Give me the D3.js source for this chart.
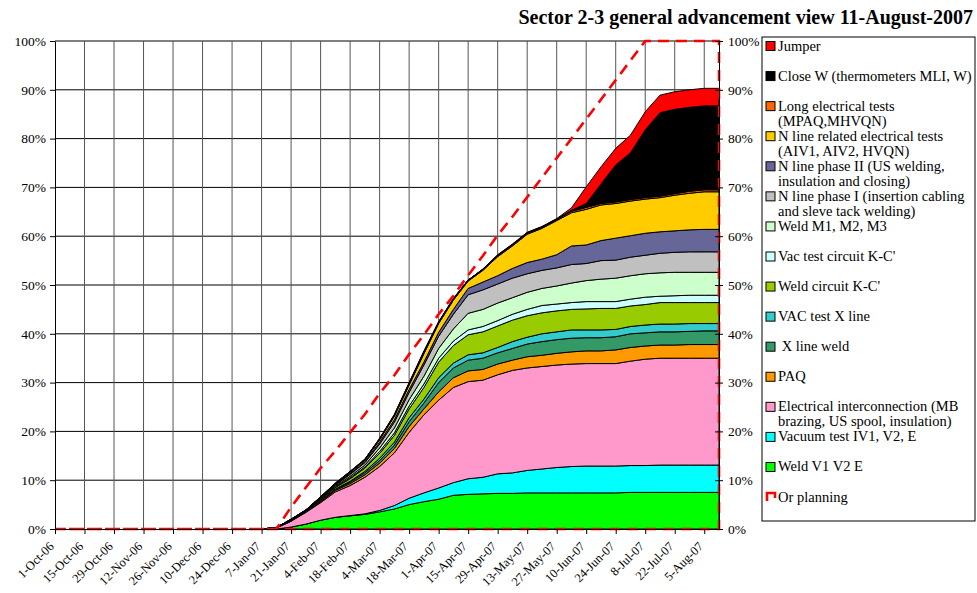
<!DOCTYPE html>
<html>
<head>
<meta charset="utf-8">
<script src="https://cdn.jsdelivr.net/npm/d3@7"></script>
<style>
  body { margin: 0; background: #fff; }
  svg { display: block; }
  text { font-family: "Liberation Serif", "Times New Roman", serif; fill: #000; }
</style>
</head>
<body>
<div id="chart"></div>
<script>
// weekly report dates (Sundays)
const weekDates = ["7-Jan-07","14-Jan-07","21-Jan-07","28-Jan-07","4-Feb-07","11-Feb-07","18-Feb-07","25-Feb-07",
  "4-Mar-07","11-Mar-07","18-Mar-07","25-Mar-07","1-Apr-07","8-Apr-07","15-Apr-07","22-Apr-07","29-Apr-07",
  "6-May-07","13-May-07","20-May-07","27-May-07","3-Jun-07","10-Jun-07","17-Jun-07","24-Jun-07","1-Jul-07",
  "8-Jul-07","15-Jul-07","22-Jul-07","29-Jul-07","5-Aug-07","12-Aug-07"];

// x axis tick labels
const tickLabels = ["1-Oct-06","15-Oct-06","29-Oct-06","12-Nov-06","26-Nov-06","10-Dec-06","24-Dec-06","7-Jan-07",
  "21-Jan-07","4-Feb-07","18-Feb-07","4-Mar-07","18-Mar-07","1-Apr-07","15-Apr-07","29-Apr-07","13-May-07",
  "27-May-07","10-Jun-07","24-Jun-07","8-Jul-07","22-Jul-07","5-Aug-07"];

// percent of sector work done per activity (stacked, bottom first)
const weldV1V2E      = [0,0,0.4,1.0,1.8,2.4,2.7,3.0,3.5,4.1,5.0,5.6,6.1,6.9,7.1,7.2,7.3,7.3,7.4,7.4,7.4,7.4,7.4,7.4,7.4,7.5,7.5,7.5,7.5,7.5,7.5,7.5];
const vacuumTest     = [0,0,0,0,0,0,0.05,0.1,0.3,0.7,1.3,1.8,2.3,2.6,3.2,3.4,4.0,4.2,4.6,4.9,5.2,5.4,5.5,5.5,5.5,5.5,5.5,5.6,5.6,5.6,5.6,5.6];
const elecInterconn  = [0,0.2,1.2,2.4,3.6,5.2,6.15,7.5,9.0,10.8,13.5,16.0,18.0,19.5,19.9,19.9,20.3,21.0,21.0,21.0,21.0,21.0,21.0,21.0,21.0,21.4,21.8,21.9,21.9,21.9,21.9,21.9];
const paq            = [0,0,0.05,0.1,0.2,0.3,0.4,0.5,0.7,0.9,1.2,1.2,1.7,2.0,2.2,2.2,2.2,2.1,2.3,2.3,2.4,2.5,2.6,2.6,2.8,2.8,2.7,2.7,2.7,2.8,2.8,2.8];
const xLineWeld      = [0,0,0.05,0.05,0.1,0.2,0.3,0.4,0.5,0.7,1.0,1.2,1.9,2.0,2.2,2.3,2.3,2.4,2.6,2.8,2.8,2.8,2.7,2.7,2.7,2.8,2.7,2.7,2.7,2.7,2.8,2.8];
const vacTestXLine   = [0,0,0,0.05,0.1,0.1,0.2,0.3,0.5,0.6,0.8,0.8,1.0,1.0,1.1,1.1,1.1,1.4,1.4,1.6,1.6,1.7,1.6,1.6,1.5,1.5,1.6,1.6,1.6,1.6,1.5,1.5];
const weldCircuitKC  = [0,0,0.1,0.1,0.2,0.3,0.5,0.7,1.0,1.4,1.8,2.4,3.2,3.6,4.1,4.3,4.4,4.4,4.4,4.3,4.3,4.2,4.3,4.4,4.3,4.2,4.2,4.4,4.4,4.3,4.3,4.3];
const vacTestKC      = [0,0,0,0,0.05,0.1,0.2,0.2,0.4,0.5,0.6,0.7,0.8,0.9,1.0,1.1,1.1,1.2,1.3,1.5,1.4,1.4,1.5,1.4,1.4,1.4,1.5,1.3,1.4,1.5,1.5,1.5];
const weldM123       = [0,0,0.05,0.05,0.15,0.2,0.3,0.4,0.7,1.0,1.3,1.6,2.0,2.5,3.4,3.5,3.6,3.4,3.5,3.5,3.7,4.0,4.3,4.6,4.8,4.8,4.8,4.8,4.8,4.7,4.7,4.7];
const nLinePhase1    = [0,0.1,0.05,0.05,0.15,0.2,0.4,0.5,0.8,1.2,1.5,2.3,2.5,3.0,3.8,4.0,3.9,4.0,3.8,3.7,3.7,3.8,3.5,3.8,3.7,3.8,3.8,4.0,4.1,4.2,4.2,4.2];
const nLinePhase2    = [0,0,0,0,0.05,0.1,0.15,0.2,0.4,0.5,0.6,0.6,0.8,1.0,1.3,1.6,1.7,2.0,2.3,2.3,2.7,3.8,3.8,4.1,4.5,4.4,4.5,4.4,4.4,4.5,4.6,4.6];
const nLineElecTests = [0,0,0.05,0.05,0.1,0.15,0.25,0.3,0.5,0.7,0.9,1.7,1.8,1.9,1.5,2.4,3.9,4.6,5.8,6.3,7.0,6.8,7.3,7.3,7.1,7.1,7.0,7.0,7.3,7.5,7.7,7.7];
const longElecTests  = [0,0,0.05,0.05,0.05,0.05,0.1,0.1,0.1,0.2,0.2,0.3,0.2,0.2,0.2,0.2,0.2,0.2,0.2,0.2,0.2,0.3,0.4,0.3,0.3,0.3,0.3,0.3,0.3,0.4,0.4,0.4];
const closeW         = [0,0,0,0,0.05,0.1,0.1,0.1,0.1,0.1,0.2,0.1,0.1,0.1,0,0,0.1,0.1,0.1,0.1,0.1,0.2,0.8,4.0,7.6,9.6,13.9,17.1,17.3,17.2,17.2,17.2];
const jumper         = [0,0,0,0,0,0,0,0,0.1,0.1,0.1,0.2,0.1,0.1,0,0.1,0.1,0.1,0.1,0.1,0.1,0.5,3.4,3.5,3.4,3.6,3.7,3.6,3.6,3.6,3.6,3.6];

// planning curve (cumulative %)
const planDates  = ["1-Oct-06","14-Jan-07","21-Jan-07","28-Jan-07","4-Feb-07","11-Feb-07","18-Feb-07","25-Feb-07",
  "4-Mar-07","11-Mar-07","18-Mar-07","25-Mar-07","1-Apr-07","8-Apr-07","15-Apr-07","22-Apr-07","29-Apr-07",
  "6-May-07","13-May-07","20-May-07","27-May-07","3-Jun-07","10-Jun-07","17-Jun-07","24-Jun-07","1-Jul-07",
  "8-Jul-07","15-Jul-07","22-Jul-07","29-Jul-07","5-Aug-07","12-Aug-07"];
const planValues = [0,0,4.5,8.5,12.5,16.0,19.8,23.5,27.8,31.5,35.8,39.8,44.0,47.8,52.0,56.0,60.2,64.0,68.0,72.0,76.0,80.0,84.0,88.0,92.0,96.0,100,100,100,100,100,100];

const seriesNames = ["Weld V1 V2 E","Vacuum test IV1, V2, E","Electrical interconnection (MB brazing, US spool, insulation)",
  "PAQ"," X line weld","VAC test X line","Weld circuit K-C'","Vac test circuit K-C'","Weld M1, M2, M3",
  "N line phase I (insertion cabling and sleve tack welding)","N line phase II (US welding, insulation and closing)",
  "N line related electrical tests (AIV1, AIV2, HVQN)","Long electrical tests (MPAQ,MHVQN)",
  "Close W (thermometers MLI, W)","Jumper"];
const seriesValues = [weldV1V2E, vacuumTest, elecInterconn, paq, xLineWeld, vacTestXLine, weldCircuitKC, vacTestKC,
  weldM123, nLinePhase1, nLinePhase2, nLineElecTests, longElecTests, closeW, jumper];
const seriesColors = ["#00ff00","#00ffff","#ff99cc","#ff9900","#339966","#33cccc","#99cc00","#ccffff","#ccffcc",
  "#c0c0c0","#666699","#ffcc00","#ff6600","#000000","#ff0000"];
// legend text lines (top entry first)
const legendLines = [["Jumper"],["Close W (thermometers MLI, W)"],["Long electrical tests","(MPAQ,MHVQN)"],
  ["N line related electrical tests","(AIV1, AIV2, HVQN)"],["N line phase II (US welding,","insulation and closing)"],
  ["N line phase I (insertion cabling","and sleve tack welding)"],["Weld M1, M2, M3"],["Vac test circuit K-C'"],
  ["Weld circuit K-C'"],["VAC test X line"],[" X line weld"],["PAQ"],
  ["Electrical interconnection (MB","brazing, US spool, insulation)"],["Vacuum test IV1, V2, E"],["Weld V1 V2 E"],["Or planning"]];

const W = 977, H = 593;
const plot = { left: 55, right: 719, top: 41, bottom: 529 };
const parse = d3.timeParse("%-d-%b-%y");
const serif = "'Liberation Serif', 'Times New Roman', serif";

const svg = d3.select("#chart").append("svg").attr("width", W).attr("height", H);

const x = d3.scaleTime()
  .domain([parse("1-Oct-06"), parse("12-Aug-07")])
  .range([plot.left, plot.right]);
const y = d3.scaleLinear().domain([0, 100]).range([plot.bottom, plot.top]);

// gridlines
const yTicks = d3.range(0, 101, 10);
svg.append("g").selectAll("line").data(yTicks.slice(1)).join("line")
  .attr("x1", plot.left).attr("x2", plot.right)
  .attr("y1", d => y(d)).attr("y2", d => y(d))
  .attr("stroke", "#000").attr("stroke-width", 1);
const tickDates = tickLabels.map(parse);
svg.append("g").selectAll("line").data(tickDates.slice(1)).join("line")
  .attr("x1", d => x(d)).attr("x2", d => x(d))
  .attr("y1", plot.top).attr("y2", plot.bottom)
  .attr("stroke", "#555").attr("stroke-width", 1);

// stacked areas
const rows = weekDates.map((d, i) => {
  const r = { date: parse(d) };
  seriesNames.forEach((n, k) => r[n] = seriesValues[k][i]);
  return r;
});
const stacked = d3.stack().keys(seriesNames)(rows);
const area = d3.area()
  .x(d => x(d.data.date))
  .y0(d => y(d[0]))
  .y1(d => y(d[1]));
svg.append("g").selectAll("path").data(stacked).join("path")
  .attr("d", area)
  .attr("fill", (d, i) => seriesColors[i])
  .attr("stroke", "#000")
  .attr("stroke-width", 1)
  .attr("stroke-linejoin", "round");

// planning outline (area without fill)
const planPts = planDates.map((d, i) => [x(parse(d)), y(planValues[i])]);
planPts.push([x(parse(planDates[planDates.length - 1])), y(0)], [x(parse(planDates[0])), y(0)]);
svg.append("path")
  .attr("d", d3.line()(planPts))
  .attr("fill", "none")
  .attr("stroke", "#ff0000")
  .attr("stroke-width", 2.6)
  .attr("stroke-dasharray", "11,7");

// axes
const pct = d => d + "%";
const left = svg.append("g")
  .attr("transform", `translate(${plot.left},0)`)
  .call(d3.axisLeft(y).tickValues(yTicks).tickFormat(pct).tickSize(5).tickSizeOuter(0).tickPadding(4));
const right = svg.append("g")
  .attr("transform", `translate(${plot.right},0)`)
  .call(d3.axisRight(y).tickValues(yTicks).tickFormat(pct).tickSize(4).tickSizeOuter(0).tickPadding(5));
right.selectAll(".tick line").attr("x1", -4);
const bottom = svg.append("g")
  .attr("transform", `translate(0,${plot.bottom})`)
  .call(d3.axisBottom(x).tickValues(tickDates).tickFormat((d, i) => tickLabels[i]).tickSize(5).tickSizeOuter(0));
[left, right, bottom].forEach(g => {
  g.attr("font-family", serif).attr("font-size", 13.5);
  g.selectAll("text").style("font-size", "13.5px").style("font-family", serif);
  g.selectAll("line, path").attr("stroke", "#000");
});
// rotated date labels, slightly smaller so the long ones stay inside the picture
bottom.selectAll(".tick text")
  .attr("text-anchor", "end")
  .attr("transform", "translate(-4,15) rotate(-45)")
  .attr("dy", "0.35em")
  .attr("y", 0).attr("x", 0)
  .style("font-size", "12.5px");

// title
svg.append("text")
  .attr("x", 973).attr("y", 24)
  .attr("text-anchor", "end")
  .style("font-size", "20px").style("font-weight", "bold")
  .text("Sector 2-3 general advancement view 11-August-2007");

// legend
const lg = svg.append("g");
lg.append("rect")
  .attr("x", 762).attr("y", 37).attr("width", 213).attr("height", 484)
  .attr("fill", "#fff").attr("stroke", "#000").attr("stroke-width", 1);
const legendColors = seriesColors.slice().reverse();
legendLines.forEach((lines, i) => {
  const cy = 46 + i * 30.07;
  if (i < legendColors.length) {
    lg.append("rect")
      .attr("x", 766).attr("y", cy - 4.5).attr("width", 9).attr("height", 9)
      .attr("fill", legendColors[i]).attr("stroke", "#000").attr("stroke-width", 1);
  } else {
    lg.append("path")
      .attr("d", `M767,${cy + 4}V${cy - 4}H775V${cy + 1}`)
      .attr("fill", "none").attr("stroke", "#ff0000").attr("stroke-width", 2.6);
  }
  lines.forEach((t, j) => {
    lg.append("text")
      .attr("x", 778).attr("y", cy + j * 15 + 4.5)
      .style("font-size", "14.5px")
      .style("white-space", "pre")
      .text(t);
  });
});
</script>
</body>
</html>
